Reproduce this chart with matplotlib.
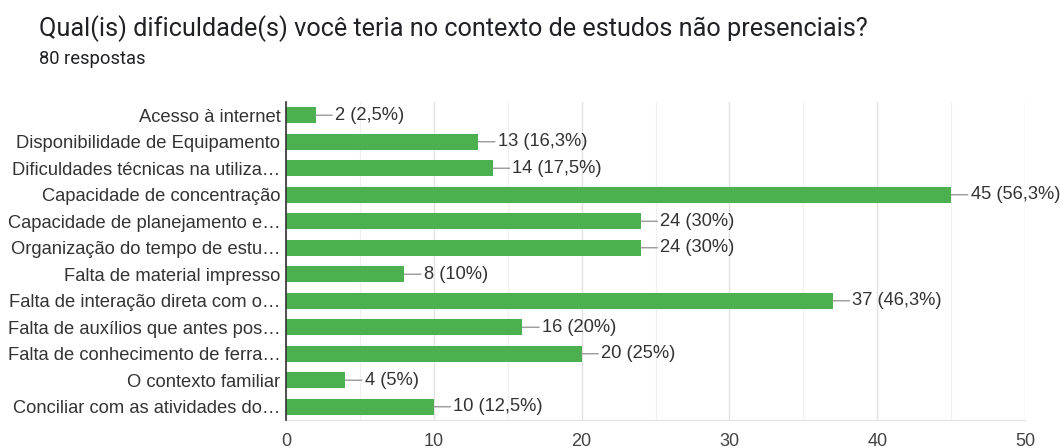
import matplotlib
matplotlib.use("Agg")
import matplotlib.pyplot as plt

categories = [
    "Acesso à internet",
    "Disponibilidade de Equipamento",
    "Dificuldades técnicas na utiliza…",
    "Capacidade de concentração",
    "Capacidade de planejamento e…",
    "Organização do tempo de estu…",
    "Falta de material impresso",
    "Falta de interação direta com o…",
    "Falta de auxílios que antes pos…",
    "Falta de conhecimento de ferra…",
    "O contexto familiar",
    "Conciliar com as atividades do…",
]
counts = [2, 13, 14, 45, 24, 24, 8, 37, 16, 20, 4, 10]
percent_labels = ["2,5%", "16,3%", "17,5%", "56,3%", "30%", "30%",
                  "10%", "46,3%", "20%", "25%", "5%", "12,5%"]
x_ticks = [0, 10, 20, 30, 40, 50]

BAR_COLOR = "#4caf50"
TEXT_COLOR = "#333333"

fig = plt.figure(figsize=(10.6, 4.48), dpi=100)
ax = fig.add_axes([286 / 1060, 1 - 420 / 448, 739 / 1060, 318 / 448])

positions = list(range(len(categories)))
ax.barh(positions, counts, height=0.6, color=BAR_COLOR, zorder=3)
ax.set_ylim(len(categories) - 0.5, -0.5)
ax.set_xlim(0, 50)

# light grid: major every 10, minor every 5
ax.set_xticks(x_ticks)
ax.set_xticks([5, 15, 25, 35, 45], minor=True)
ax.grid(axis="x", which="major", color="#e3e3e3", linewidth=1, zorder=0)
ax.grid(axis="x", which="minor", color="#f0f0f0", linewidth=1, zorder=0)
ax.tick_params(axis="x", which="both", length=0, pad=9, labelsize=13,
               labelcolor="#444444")
ax.tick_params(axis="y", length=0, pad=4, labelsize=13.2, labelcolor=TEXT_COLOR)
ax.set_yticks(positions)
ax.set_yticklabels(categories, family="Liberation Sans")
for lbl in ax.get_xticklabels():
    lbl.set_family("Liberation Sans")

for side in ("top", "right"):
    ax.spines[side].set_visible(False)
ax.spines["bottom"].set_color("#e3e3e3")
ax.spines["left"].set_color("#333333")
ax.spines["left"].set_linewidth(1.2)
ax.spines["left"].set_zorder(4)

# value annotations with short connector line
for pos, val, pct in zip(positions, counts, percent_labels):
    ax.annotate(f"{val} ({pct})", xy=(val, pos), xytext=(14, 0),
                textcoords="offset points", va="center", ha="left",
                fontsize=13.2, color=TEXT_COLOR, family="Liberation Sans",
                arrowprops=dict(arrowstyle="-", color="#999999", lw=1,
                                shrinkA=0, shrinkB=0))

fig.text(39 / 1060, 1 - 29 / 448,
         "Qual(is) dificuldade(s) você teria no contexto de estudos não presenciais?",
         fontsize=18.2, color="#202124", family="Roboto", va="center", ha="left")
fig.text(39 / 1060, 1 - 59 / 448, "80 respostas", fontsize=13.2,
         color="#202124", family="Roboto", va="center", ha="left")

fig.savefig("out.png", dpi=100, facecolor="white")
